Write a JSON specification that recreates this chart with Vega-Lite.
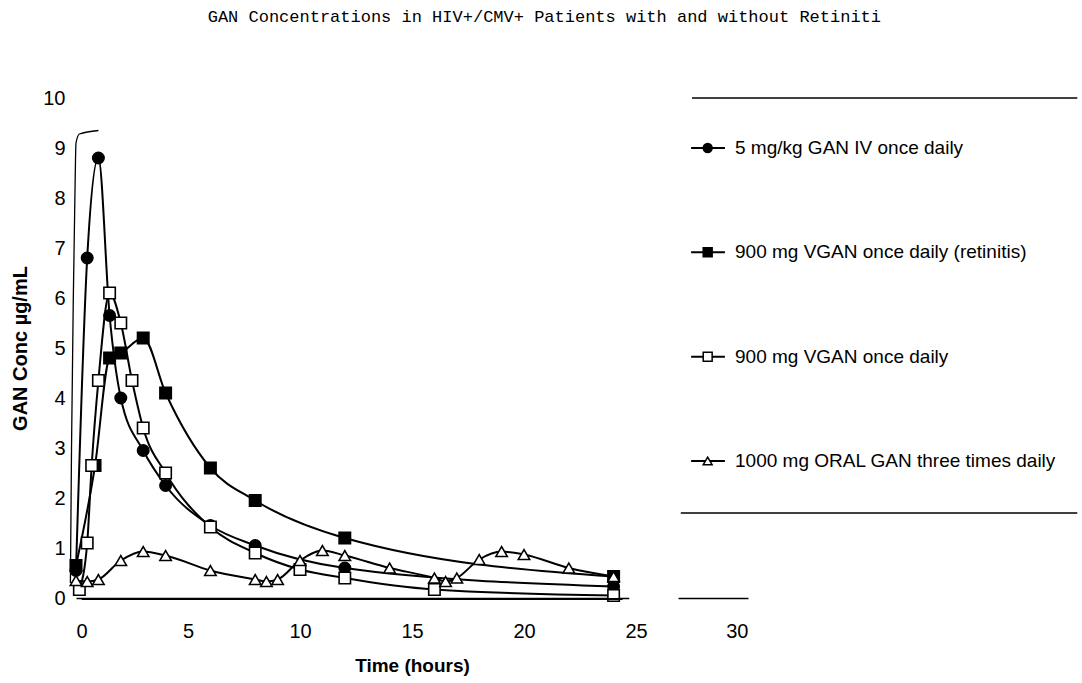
{
  "$schema": "https://vega.github.io/schema/vega-lite/v6.json",
  "width": 672,
  "height": 500,
  "padding": {"left": 10, "top": 8, "right": 0, "bottom": 2},
  "background": "white",
  "title": {
    "text": "GAN Concentrations in HIV+/CMV+ Patients with and without Retiniti",
    "font": "Liberation Mono",
    "fontSize": 17,
    "fontWeight": "normal",
    "color": "black",
    "frame": "bounds",
    "anchor": "middle",
    "offset": 62
  },
  "config": {
    "view": {"stroke": null},
    "axisX": {
      "grid": false, "domain": true, "domainColor": "black", "domainWidth": 1.6,
      "ticks": false, "tickSize": 0,
      "labelFont": "Liberation Sans", "labelFontSize": 20, "labelColor": "black",
      "labelPadding": 23,
      "titleFont": "Liberation Sans", "titleFontSize": 19, "titleFontWeight": "bold",
      "titleColor": "black", "titlePadding": 15
    },
    "axisY": {
      "grid": false, "domain": false, "ticks": false, "tickSize": 0,
      "labelFont": "Liberation Sans", "labelFontSize": 20, "labelColor": "black",
      "labelPadding": 11,
      "titleFont": "Liberation Sans", "titleFontSize": 20, "titleFontWeight": "bold",
      "titleColor": "black", "titlePadding": 12
    }
  },
  "datasets": {
    "pk": [
      {"series": "5 mg/kg GAN IV once daily", "time": 0, "conc": 0.55},
      {"series": "5 mg/kg GAN IV once daily", "time": 0.5, "conc": 6.8},
      {"series": "5 mg/kg GAN IV once daily", "time": 1, "conc": 8.8},
      {"series": "5 mg/kg GAN IV once daily", "time": 1.5, "conc": 5.65},
      {"series": "5 mg/kg GAN IV once daily", "time": 2, "conc": 4.0},
      {"series": "5 mg/kg GAN IV once daily", "time": 3, "conc": 2.95},
      {"series": "5 mg/kg GAN IV once daily", "time": 4, "conc": 2.25},
      {"series": "5 mg/kg GAN IV once daily", "time": 6, "conc": 1.45},
      {"series": "5 mg/kg GAN IV once daily", "time": 8, "conc": 1.05},
      {"series": "5 mg/kg GAN IV once daily", "time": 12, "conc": 0.6},
      {"series": "5 mg/kg GAN IV once daily", "time": 24, "conc": 0.23},
      {"series": "900 mg VGAN once daily (retinitis)", "time": 0, "conc": 0.65},
      {"series": "900 mg VGAN once daily (retinitis)", "time": 0.85, "conc": 2.65},
      {"series": "900 mg VGAN once daily (retinitis)", "time": 1.5, "conc": 4.8},
      {"series": "900 mg VGAN once daily (retinitis)", "time": 2, "conc": 4.9},
      {"series": "900 mg VGAN once daily (retinitis)", "time": 3, "conc": 5.2},
      {"series": "900 mg VGAN once daily (retinitis)", "time": 4, "conc": 4.1},
      {"series": "900 mg VGAN once daily (retinitis)", "time": 6, "conc": 2.6},
      {"series": "900 mg VGAN once daily (retinitis)", "time": 8, "conc": 1.95},
      {"series": "900 mg VGAN once daily (retinitis)", "time": 12, "conc": 1.2},
      {"series": "900 mg VGAN once daily (retinitis)", "time": 24, "conc": 0.43},
      {"series": "900 mg VGAN once daily", "time": 0.15, "conc": 0.17},
      {"series": "900 mg VGAN once daily", "time": 0.5, "conc": 1.1},
      {"series": "900 mg VGAN once daily", "time": 0.7, "conc": 2.65},
      {"series": "900 mg VGAN once daily", "time": 1, "conc": 4.35},
      {"series": "900 mg VGAN once daily", "time": 1.5, "conc": 6.1},
      {"series": "900 mg VGAN once daily", "time": 2, "conc": 5.5},
      {"series": "900 mg VGAN once daily", "time": 2.5, "conc": 4.35},
      {"series": "900 mg VGAN once daily", "time": 3, "conc": 3.4},
      {"series": "900 mg VGAN once daily", "time": 4, "conc": 2.5},
      {"series": "900 mg VGAN once daily", "time": 6, "conc": 1.42},
      {"series": "900 mg VGAN once daily", "time": 8, "conc": 0.9},
      {"series": "900 mg VGAN once daily", "time": 10, "conc": 0.57},
      {"series": "900 mg VGAN once daily", "time": 12, "conc": 0.4},
      {"series": "900 mg VGAN once daily", "time": 16, "conc": 0.17},
      {"series": "900 mg VGAN once daily", "time": 24, "conc": 0.05},
      {"series": "1000 mg ORAL GAN three times daily", "time": 0, "conc": 0.35},
      {"series": "1000 mg ORAL GAN three times daily", "time": 0.5, "conc": 0.33},
      {"series": "1000 mg ORAL GAN three times daily", "time": 1, "conc": 0.37},
      {"series": "1000 mg ORAL GAN three times daily", "time": 2, "conc": 0.75},
      {"series": "1000 mg ORAL GAN three times daily", "time": 3, "conc": 0.93},
      {"series": "1000 mg ORAL GAN three times daily", "time": 4, "conc": 0.85},
      {"series": "1000 mg ORAL GAN three times daily", "time": 6, "conc": 0.55},
      {"series": "1000 mg ORAL GAN three times daily", "time": 8, "conc": 0.37},
      {"series": "1000 mg ORAL GAN three times daily", "time": 8.5, "conc": 0.33},
      {"series": "1000 mg ORAL GAN three times daily", "time": 9, "conc": 0.37},
      {"series": "1000 mg ORAL GAN three times daily", "time": 10, "conc": 0.75},
      {"series": "1000 mg ORAL GAN three times daily", "time": 11, "conc": 0.95},
      {"series": "1000 mg ORAL GAN three times daily", "time": 12, "conc": 0.85},
      {"series": "1000 mg ORAL GAN three times daily", "time": 14, "conc": 0.6},
      {"series": "1000 mg ORAL GAN three times daily", "time": 16, "conc": 0.4},
      {"series": "1000 mg ORAL GAN three times daily", "time": 16.5, "conc": 0.33},
      {"series": "1000 mg ORAL GAN three times daily", "time": 17, "conc": 0.4},
      {"series": "1000 mg ORAL GAN three times daily", "time": 18, "conc": 0.77},
      {"series": "1000 mg ORAL GAN three times daily", "time": 19, "conc": 0.93},
      {"series": "1000 mg ORAL GAN three times daily", "time": 20, "conc": 0.87},
      {"series": "1000 mg ORAL GAN three times daily", "time": 22, "conc": 0.6},
      {"series": "1000 mg ORAL GAN three times daily", "time": 24, "conc": 0.43}
    ],
    "artifact": [
      {"time": -0.25, "conc": 0.3},
      {"time": -0.2, "conc": 3.0},
      {"time": -0.12, "conc": 6.0},
      {"time": -0.05, "conc": 8.0},
      {"time": 0.0, "conc": 9.1},
      {"time": 0.15, "conc": 9.28},
      {"time": 1.0, "conc": 9.35}
    ],
    "one": [{}]
  },
  "layer": [
    {
      "layer": [
        {
          "data": {"name": "artifact"},
          "mark": {"type": "line", "color": "black", "strokeWidth": 1.3, "interpolate": "monotone"},
          "encoding": {
            "x": {"field": "time", "type": "quantitative", "scale": {"domain": [0, 30], "nice": false, "zero": false}, "title": "Time (hours)",
              "axis": {"values": [0, 5, 10, 15, 20, 25, 30]}},
            "y": {"field": "conc", "type": "quantitative", "scale": {"domain": [0, 10], "nice": false}, "title": "GAN Conc µg/mL",
              "axis": {"values": [0, 1, 2, 3, 4, 5, 6, 7, 8, 9, 10]}}
          }
        },
        {
          "data": {"name": "pk"},
          "mark": {"type": "line", "color": "black", "strokeWidth": 2, "interpolate": "monotone"},
          "encoding": {
            "x": {"field": "time", "type": "quantitative", "title": "Time (hours)",
              "axis": {"values": [0, 5, 10, 15, 20, 25, 30]}},
            "y": {"field": "conc", "type": "quantitative", "title": "GAN Conc µg/mL",
              "axis": {"values": [0, 1, 2, 3, 4, 5, 6, 7, 8, 9, 10]}},
            "detail": {"field": "series", "type": "nominal"}
          }
        },
        {
          "data": {"name": "pk"},
          "mark": {"type": "point", "filled": true, "stroke": "black", "strokeWidth": 1.6, "size": 130, "opacity": 1},
          "encoding": {
            "x": {"field": "time", "type": "quantitative", "title": "Time (hours)"},
            "y": {"field": "conc", "type": "quantitative", "title": "GAN Conc µg/mL"},
            "shape": {"field": "series", "type": "nominal", "legend": null,
              "scale": {"domain": ["5 mg/kg GAN IV once daily", "900 mg VGAN once daily (retinitis)", "900 mg VGAN once daily", "1000 mg ORAL GAN three times daily"],
                        "range": ["circle", "square", "square", "triangle-up"]}},
            "fill": {"field": "series", "type": "nominal", "legend": null,
              "scale": {"domain": ["5 mg/kg GAN IV once daily", "900 mg VGAN once daily (retinitis)", "900 mg VGAN once daily", "1000 mg ORAL GAN three times daily"],
                        "range": ["black", "black", "white", "white"]}}
          }
        },
        {
          "data": {"name": "one"},
          "mark": {"type": "rule", "color": "white", "strokeWidth": 5},
          "encoding": {"x": {"datum": 24.7}, "x2": {"datum": 26.9}, "y": {"datum": 0}}
        },
        {
          "data": {"name": "one"},
          "mark": {"type": "rule", "color": "black", "strokeWidth": 1.3},
          "encoding": {"x": {"datum": 27.5}, "x2": {"datum": 44.7}, "y": {"datum": 10}}
        },
        {
          "data": {"name": "one"},
          "mark": {"type": "rule", "color": "black", "strokeWidth": 1.3},
          "encoding": {"x": {"datum": 27.0}, "x2": {"datum": 44.7}, "y": {"datum": 1.7}}
        },
        {
          "data": {"name": "one"},
          "mark": {"type": "rule", "color": "black", "strokeWidth": 1.8},
          "encoding": {"x": {"datum": 0.25}, "x2": {"datum": 24.4}, "y": {"datum": -0.02}}
        }
      ]
    },
    {
      "data": {"name": "pk"},
      "transform": [{"aggregate": [{"op": "count", "as": "n"}], "groupby": ["series"]}],
      "layer": [
        {
          "mark": {"type": "rule", "color": "black", "strokeWidth": 2},
          "encoding": {
            "x": {"datum": 27.46}, "x2": {"datum": 28.97},
            "y": {"field": "series", "type": "nominal", "axis": null,
              "scale": {"type": "point", "padding": 0, "domain": ["5 mg/kg GAN IV once daily", "900 mg VGAN once daily (retinitis)", "900 mg VGAN once daily", "1000 mg ORAL GAN three times daily"], "range": [50, 363]}}
          }
        },
        {
          "mark": {"type": "point", "filled": true, "stroke": "black", "strokeWidth": 1.5, "size": 80, "opacity": 1},
          "encoding": {
            "x": {"datum": 28.2},
            "y": {"field": "series", "type": "nominal", "axis": null},
            "shape": {"field": "series", "type": "nominal", "legend": null},
            "fill": {"field": "series", "type": "nominal", "legend": null}
          }
        },
        {
          "mark": {"type": "text", "align": "left", "baseline": "middle", "font": "Liberation Sans", "fontSize": 19, "color": "black"},
          "encoding": {
            "x": {"datum": 29.42},
            "y": {"field": "series", "type": "nominal", "axis": null},
            "text": {"field": "series", "type": "nominal"}
          }
        }
      ]
    }
  ],
  "resolve": {"scale": {"y": "independent"}}
}
